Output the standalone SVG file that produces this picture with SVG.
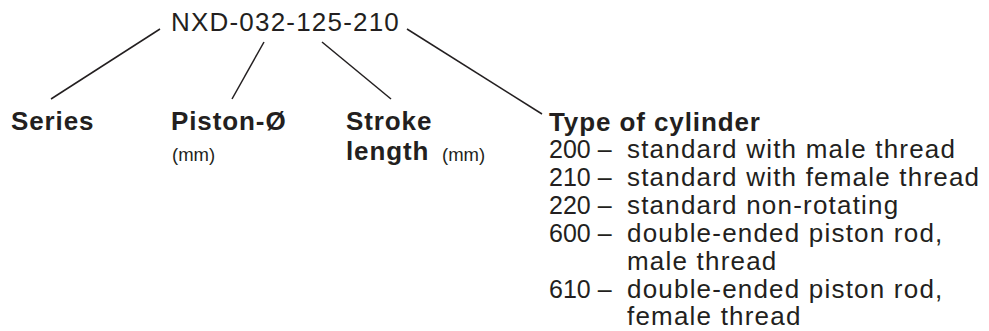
<svg xmlns="http://www.w3.org/2000/svg" width="989" height="331" viewBox="0 0 989 331">
<style>
text{font-family:"Liberation Sans",Arial,sans-serif;fill:#231f20}
.t{font-size:26px;letter-spacing:1.2px}
.b{font-size:26px;font-weight:bold;letter-spacing:0.9px}
.u{font-size:18.5px}
.n{font-size:25px}
.d{font-size:26px;letter-spacing:1.2px}
.c line{stroke:#231f20;stroke-width:1.5;fill:none}
</style>
<rect width="989" height="331" fill="#ffffff"/>
<g id="code"><text class="t" x="171" y="31">NXD-032-125-210</text></g>
<g class="c" id="connectors">
<line x1="160" y1="29" x2="51" y2="99"/>
<line x1="264" y1="42" x2="232" y2="99"/>
<line x1="322" y1="42" x2="391" y2="99"/>
<line x1="407" y1="29" x2="542" y2="114"/>
</g>
<g id="series"><text class="b" x="11" y="130">Series</text></g>
<g id="piston"><text class="b" x="171" y="130">Piston-Ø</text><text class="u" x="172" y="161">(mm)</text></g>
<g id="stroke"><text class="b" x="346" y="130">Stroke</text><text class="b" x="346" y="160">length</text><text class="u" x="442" y="161">(mm)</text></g>
<g id="type">
<text class="b" x="549" y="131">Type of cylinder</text>
<text class="n" x="549" y="158">200 –</text><text class="d" x="627" y="158">standard with male thread</text>
<text class="n" x="549" y="186">210 –</text><text class="d" x="627" y="186">standard with female thread</text>
<text class="n" x="549" y="214">220 –</text><text class="d" x="627" y="214">standard non-rotating</text>
<text class="n" x="549" y="242">600 –</text><text class="d" x="627" y="242">double-ended piston rod,</text>
<text class="d" x="627" y="270">male thread</text>
<text class="n" x="549" y="298">610 –</text><text class="d" x="627" y="298">double-ended piston rod,</text>
<text class="d" x="627" y="325">female thread</text>
</g>
</svg>
